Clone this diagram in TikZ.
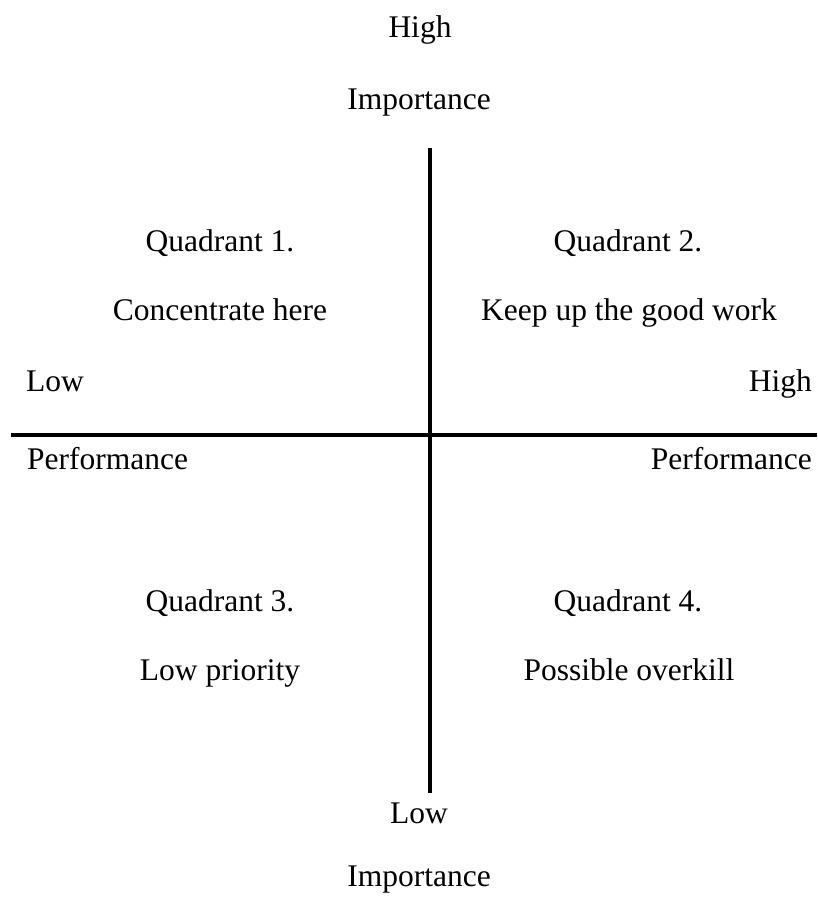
\documentclass[tikz,border=0pt]{standalone}
\usepackage{fontspec}
\setmainfont{Liberation Serif}
\begin{document}
\begin{tikzpicture}[x=1pt,y=-1pt,
  lbl/.style={inner sep=0pt, font=\fontsize{31.5}{38}\selectfont},
  axisline/.style={line width=4pt}]
\useasboundingbox (0,0) rectangle (817,904);

% axes
\coordinate (vtop) at (430,148);
\coordinate (vbot) at (430,793);
\coordinate (hleft) at (11,435);
\coordinate (hright) at (817,435);
\draw[axisline] (vtop) -- (vbot);
\draw[axisline] (hleft) -- (hright);

% importance axis labels
\node[lbl, anchor=base] (imphigh) at (420,38) {High};
\node[lbl, anchor=base] (imptop) at (419,110) {Importance};
\node[lbl, anchor=base] (implow) at (419,823) {Low};
\node[lbl, anchor=base] (impbot) at (419,886) {Importance};

% performance axis labels
\node[lbl, anchor=base west] (perflow) at (26,391) {Low};
\node[lbl, anchor=base west] (perfleft) at (27,469) {Performance};
\node[lbl, anchor=base east] (perfhigh) at (812,391) {High};
\node[lbl, anchor=base east] (perfright) at (812,469) {Performance};

% quadrants
\node[lbl, anchor=base] (q1) at (220,251) {Quadrant 1.};
\node[lbl, anchor=base] (q1t) at (220,320) {Concentrate here};
\node[lbl, anchor=base] (q2) at (628,251) {Quadrant 2.};
\node[lbl, anchor=base] (q2t) at (629,320) {Keep up the good work};
\node[lbl, anchor=base] (q3) at (220,611) {Quadrant 3.};
\node[lbl, anchor=base] (q3t) at (220,680) {Low priority};
\node[lbl, anchor=base] (q4) at (628,611) {Quadrant 4.};
\node[lbl, anchor=base] (q4t) at (629,680) {Possible overkill};
\end{tikzpicture}
\end{document}
